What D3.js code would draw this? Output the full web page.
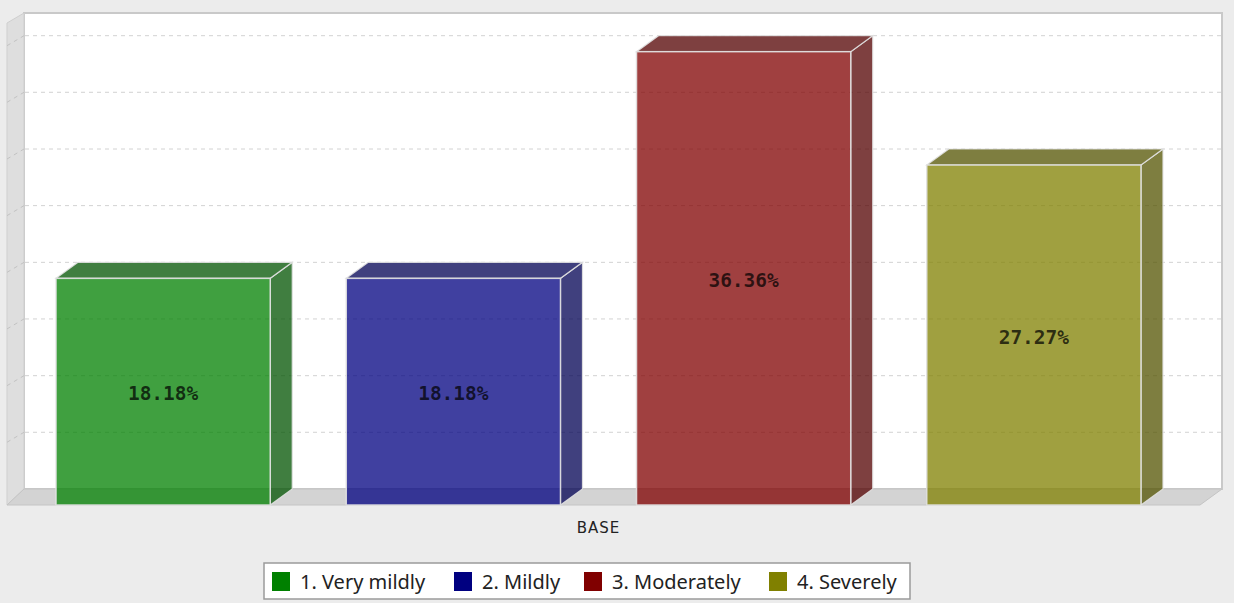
<!DOCTYPE html>
<html>
<head>
<meta charset="utf-8">
<script src="https://cdn.jsdelivr.net/npm/d3@7"></script>
<style>
  html, body { margin: 0; padding: 0; background: #ececec; }
  svg { display: block; }
</style>
</head>
<body>
<svg id="chart" width="1234" height="603"></svg>
<script>
// Share of responses per severity level (percent)
const categories = ["1. Very mildly", "2. Mildly", "3. Moderately", "4. Severely"];
const values = [18.18, 18.18, 36.36, 27.27];
const colors = ["#008000", "#000080", "#800000", "#808000"];
const sideColors = ["#005300", "#000053", "#530000", "#535300"];
const gridTicks = [4.55, 9.09, 13.64, 18.18, 22.73, 27.27, 31.82, 36.36];
const yMax = 38.18;
const axisLabel = "BASE";

const svg = d3.select("#chart");
const W = 1234, H = 603;

// 3D geometry: front plane and depth offset of the back plane
const depthX = 22, depthY = -16;
const baseFront = 505;
const wallLeftFront = 7, wallLeftBack = 24, wallRight = 1222, wallTop = 13;

const x = d3.scaleBand()
  .domain(categories)
  .range([18, 1179])
  .paddingInner(0.262)
  .paddingOuter(0.131);

const y = d3.scaleLinear()
  .domain([0, yMax])
  .range([baseFront, baseFront - (baseFront - wallTop + depthY)]);

svg.append("rect").attr("width", W).attr("height", H).attr("fill", "#ececec");

// back wall
svg.append("rect")
  .attr("x", wallLeftBack).attr("y", wallTop)
  .attr("width", wallRight - wallLeftBack).attr("height", baseFront + depthY - wallTop)
  .attr("fill", "#ffffff").attr("stroke", "#c9c9c9").attr("stroke-width", 2);

// left side wall
svg.append("polygon")
  .attr("points", [[wallLeftFront, 23], [wallLeftBack, wallTop], [wallLeftBack, baseFront + depthY], [wallLeftFront, baseFront]].join(" "))
  .attr("fill", "#dedede").attr("stroke", "#cfcfcf").attr("stroke-width", 1);

// floor
svg.append("polygon")
  .attr("points", [[wallLeftFront, baseFront], [1200, baseFront], [wallRight, baseFront + depthY], [wallLeftBack, baseFront + depthY]].join(" "))
  .attr("fill", "#d3d3d3").attr("stroke", "#c4c4c4").attr("stroke-width", 1);

// grid lines on the back wall and the side wall
const grid = svg.append("g");
grid.selectAll("line.back")
  .data(gridTicks)
  .join("line")
  .attr("class", "back")
  .attr("x1", wallLeftBack + 1).attr("x2", wallRight - 1)
  .attr("y1", d => y(d) + depthY).attr("y2", d => y(d) + depthY)
  .attr("stroke", "#d2d2d2").attr("stroke-dasharray", "4,4").attr("stroke-width", 1);
grid.selectAll("line.side")
  .data(gridTicks)
  .join("line")
  .attr("class", "side")
  .attr("x1", wallLeftFront).attr("x2", wallLeftBack)
  .attr("y1", d => y(d) + depthY + 10).attr("y2", d => y(d) + depthY)
  .attr("stroke", "#c2c2c2").attr("stroke-dasharray", "4,4").attr("stroke-width", 1);

// bars
const bars = svg.append("g").selectAll("g")
  .data(categories.map((c, i) => ({ c, v: values[i], i })))
  .join("g");

const edge = "rgba(225,225,225,0.9)";

bars.append("polygon")
  .attr("points", d => {
    const x1 = x(d.c) + x.bandwidth(), yt = y(d.v), yb = y(0);
    return [[x1, yt], [x1 + depthX, yt + depthY], [x1 + depthX, yb + depthY], [x1, yb]].join(" ");
  })
  .attr("fill", d => sideColors[d.i]).attr("fill-opacity", 0.75)
  .attr("stroke", edge).attr("stroke-width", 1.2);

bars.append("polygon")
  .attr("points", d => {
    const x0 = x(d.c), x1 = x0 + x.bandwidth(), yt = y(d.v);
    return [[x0, yt], [x0 + depthX, yt + depthY], [x1 + depthX, yt + depthY], [x1, yt]].join(" ");
  })
  .attr("fill", d => sideColors[d.i]).attr("fill-opacity", 0.75)
  .attr("stroke", edge).attr("stroke-width", 1.2);

bars.append("rect")
  .attr("x", d => x(d.c)).attr("y", d => y(d.v))
  .attr("width", x.bandwidth()).attr("height", d => y(0) - y(d.v))
  .attr("fill", d => colors[d.i]).attr("fill-opacity", 0.75)
  .attr("stroke", edge).attr("stroke-width", 1.5);

bars.append("text")
  .attr("x", d => x(d.c) + x.bandwidth() / 2)
  .attr("y", d => (y(d.v) + y(0)) / 2 + 2)
  .attr("dy", "0.35em")
  .attr("text-anchor", "middle")
  .attr("font-family", "'DejaVu Sans Mono', 'Liberation Mono', monospace")
  .attr("font-weight", "bold")
  .attr("font-size", 19.5)
  .attr("fill", "#000").attr("fill-opacity", 0.72)
  .text(d => d.v.toFixed(2) + "%");

// category axis label
svg.append("text")
  .attr("x", (x.range()[0] + x.range()[1]) / 2)
  .attr("y", 533)
  .attr("text-anchor", "middle")
  .attr("font-family", "'DejaVu Sans', sans-serif")
  .attr("font-size", 15)
  .attr("letter-spacing", 1)
  .attr("fill", "#222")
  .text(axisLabel);

// legend
const legend = svg.append("g");
legend.append("rect")
  .attr("x", 264).attr("y", 563).attr("width", 646).attr("height", 36)
  .attr("fill", "#fff").attr("stroke", "#9a9a9a").attr("stroke-width", 1.5);

const legendX = [272, 454, 584, 769];
const items = legend.selectAll("g.item")
  .data(categories.map((c, i) => ({ c, i })))
  .join("g").attr("class", "item")
  .attr("transform", d => `translate(${legendX[d.i]},572)`);
items.append("rect")
  .attr("width", 18).attr("height", 19)
  .attr("fill", d => colors[d.i]);
items.append("text")
  .attr("x", 28).attr("y", 17)
  .attr("font-family", "'Noto Sans', 'Open Sans', sans-serif")
  .attr("font-size", 20)
  .attr("fill", "#222")
  .text(d => d.c);
</script>
</body>
</html>
